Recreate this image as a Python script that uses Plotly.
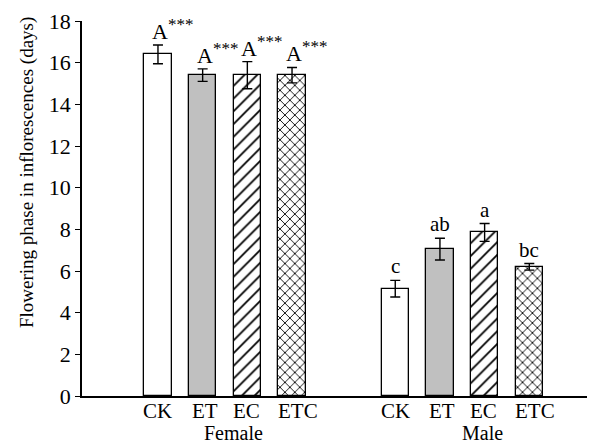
import plotly.graph_objects as go

treatments = ["CK", "ET", "EC", "ETC"]
groups = ["Female", "Male"]
female_mean = [16.4, 15.4, 15.4, 15.4]
female_err = [0.45, 0.3, 0.65, 0.37]
male_mean = [5.15, 7.05, 7.85, 6.2]
male_err = [0.4, 0.52, 0.43, 0.16]
female_letters = ["A", "A", "A", "A"]
female_stars = ["***", "***", "***", "***"]
male_letters = ["c", "ab", "a", "bc"]
y_ticks = [0, 2, 4, 6, 8, 10, 12, 14, 16, 18]

fills = ["white", "#C0C0C0", "white", "white"]
shapes = ["", "", "/", "x"]
psizes = [8, 8, 9, 7]
psolid = [0.2, 0.2, 0.2, 0.24]
label_shift = [0, 2, -1, 6]

female_x = [0, 1, 2, 3]
male_x = [5.31, 6.31, 7.31, 8.31]

FONT = "Liberation Serif, Times New Roman, serif"
# page body has an 8px default margin; size the figure to compensate
OFF = 8
W, H = 595 - OFF, 444 - OFF
L, T, B = 82 - OFF, 21 - OFF, 48
PW, PH = W - L, H - T - B

fig = go.Figure()
for i, t in enumerate(treatments):
    fig.add_trace(go.Bar(
        x=[female_x[i], male_x[i]],
        y=[female_mean[i], male_mean[i]],
        width=0.61,
        marker=dict(
            color=fills[i],
            line=dict(color="black", width=1.3),
            pattern=dict(shape=shapes[i], fgcolor="black", bgcolor="white", fgopacity=1,
                         size=psizes[i], solidity=psolid[i], fillmode="overlay"),
        ),
        error_y=dict(type="data", array=[female_err[i], male_err[i]],
                     color="black", thickness=1.4, width=5),
        showlegend=False,
        name=t,
    ))

annotations = []
for i in range(4):
    top = female_mean[i] + female_err[i]
    annotations.append(dict(x=female_x[i], y=top,
                            text=female_letters[i] + "<sup><span style='font-size:17px'>" + female_stars[i] + "</span></sup>",
                            xanchor="left", yanchor="bottom", xshift=-8, yshift=-1,
                            showarrow=False, font=dict(family=FONT, size=22, color="black")))
    topm = male_mean[i] + male_err[i]
    annotations.append(dict(x=male_x[i], y=topm, text=male_letters[i],
                            xanchor="center", yanchor="bottom", yshift=0,
                            showarrow=False, font=dict(family=FONT, size=21, color="black")))
    for gx in (female_x[i], male_x[i]):
        annotations.append(dict(x=gx, y=0, yref="paper", text=treatments[i], xanchor="center",
                                yanchor="top", yshift=-1, xshift=label_shift[i], showarrow=False,
                                font=dict(family=FONT, size=21, color="black")))

group_centers = [(female_x[0] + female_x[-1]) / 2 + 0.2, (male_x[0] + male_x[-1]) / 2 + 0.45]
for g, gx in zip(groups, group_centers):
    annotations.append(dict(x=gx, y=0, yref="paper", text=g, xanchor="center", yanchor="top",
                            yshift=-24, showarrow=False, font=dict(family=FONT, size=20, color="black")))

annotations.append(dict(x=(27 - 82) / PW, xref="paper", y=(396 - 173) / PH, yref="paper",
                        text="Flowering phase in inflorescences (days)",
                        textangle=-90, showarrow=False, xanchor="center", yanchor="middle",
                        font=dict(family=FONT, size=19, color="black")))

fig.update_layout(
    width=W, height=H,
    margin=dict(l=L, r=0, t=T, b=B, pad=0),
    paper_bgcolor="white", plot_bgcolor="white",
    bargap=0, barmode="overlay",
    annotations=annotations,
    font=dict(family=FONT, size=20, color="black"),
    xaxis=dict(range=[-1.70, 9.78], showticklabels=False,
               showline=True, linecolor="black", linewidth=1.5, ticks="", showgrid=False,
               zeroline=False),
    yaxis=dict(range=[0, 18], tickvals=y_ticks, showline=True, linecolor="black", linewidth=1.5,
               ticks="outside", ticklen=5, tickcolor="black", tickwidth=1.2, showgrid=False,
               zeroline=False, tickfont=dict(family=FONT, size=22, color="black")),
)

fig.write_html("out.html")
